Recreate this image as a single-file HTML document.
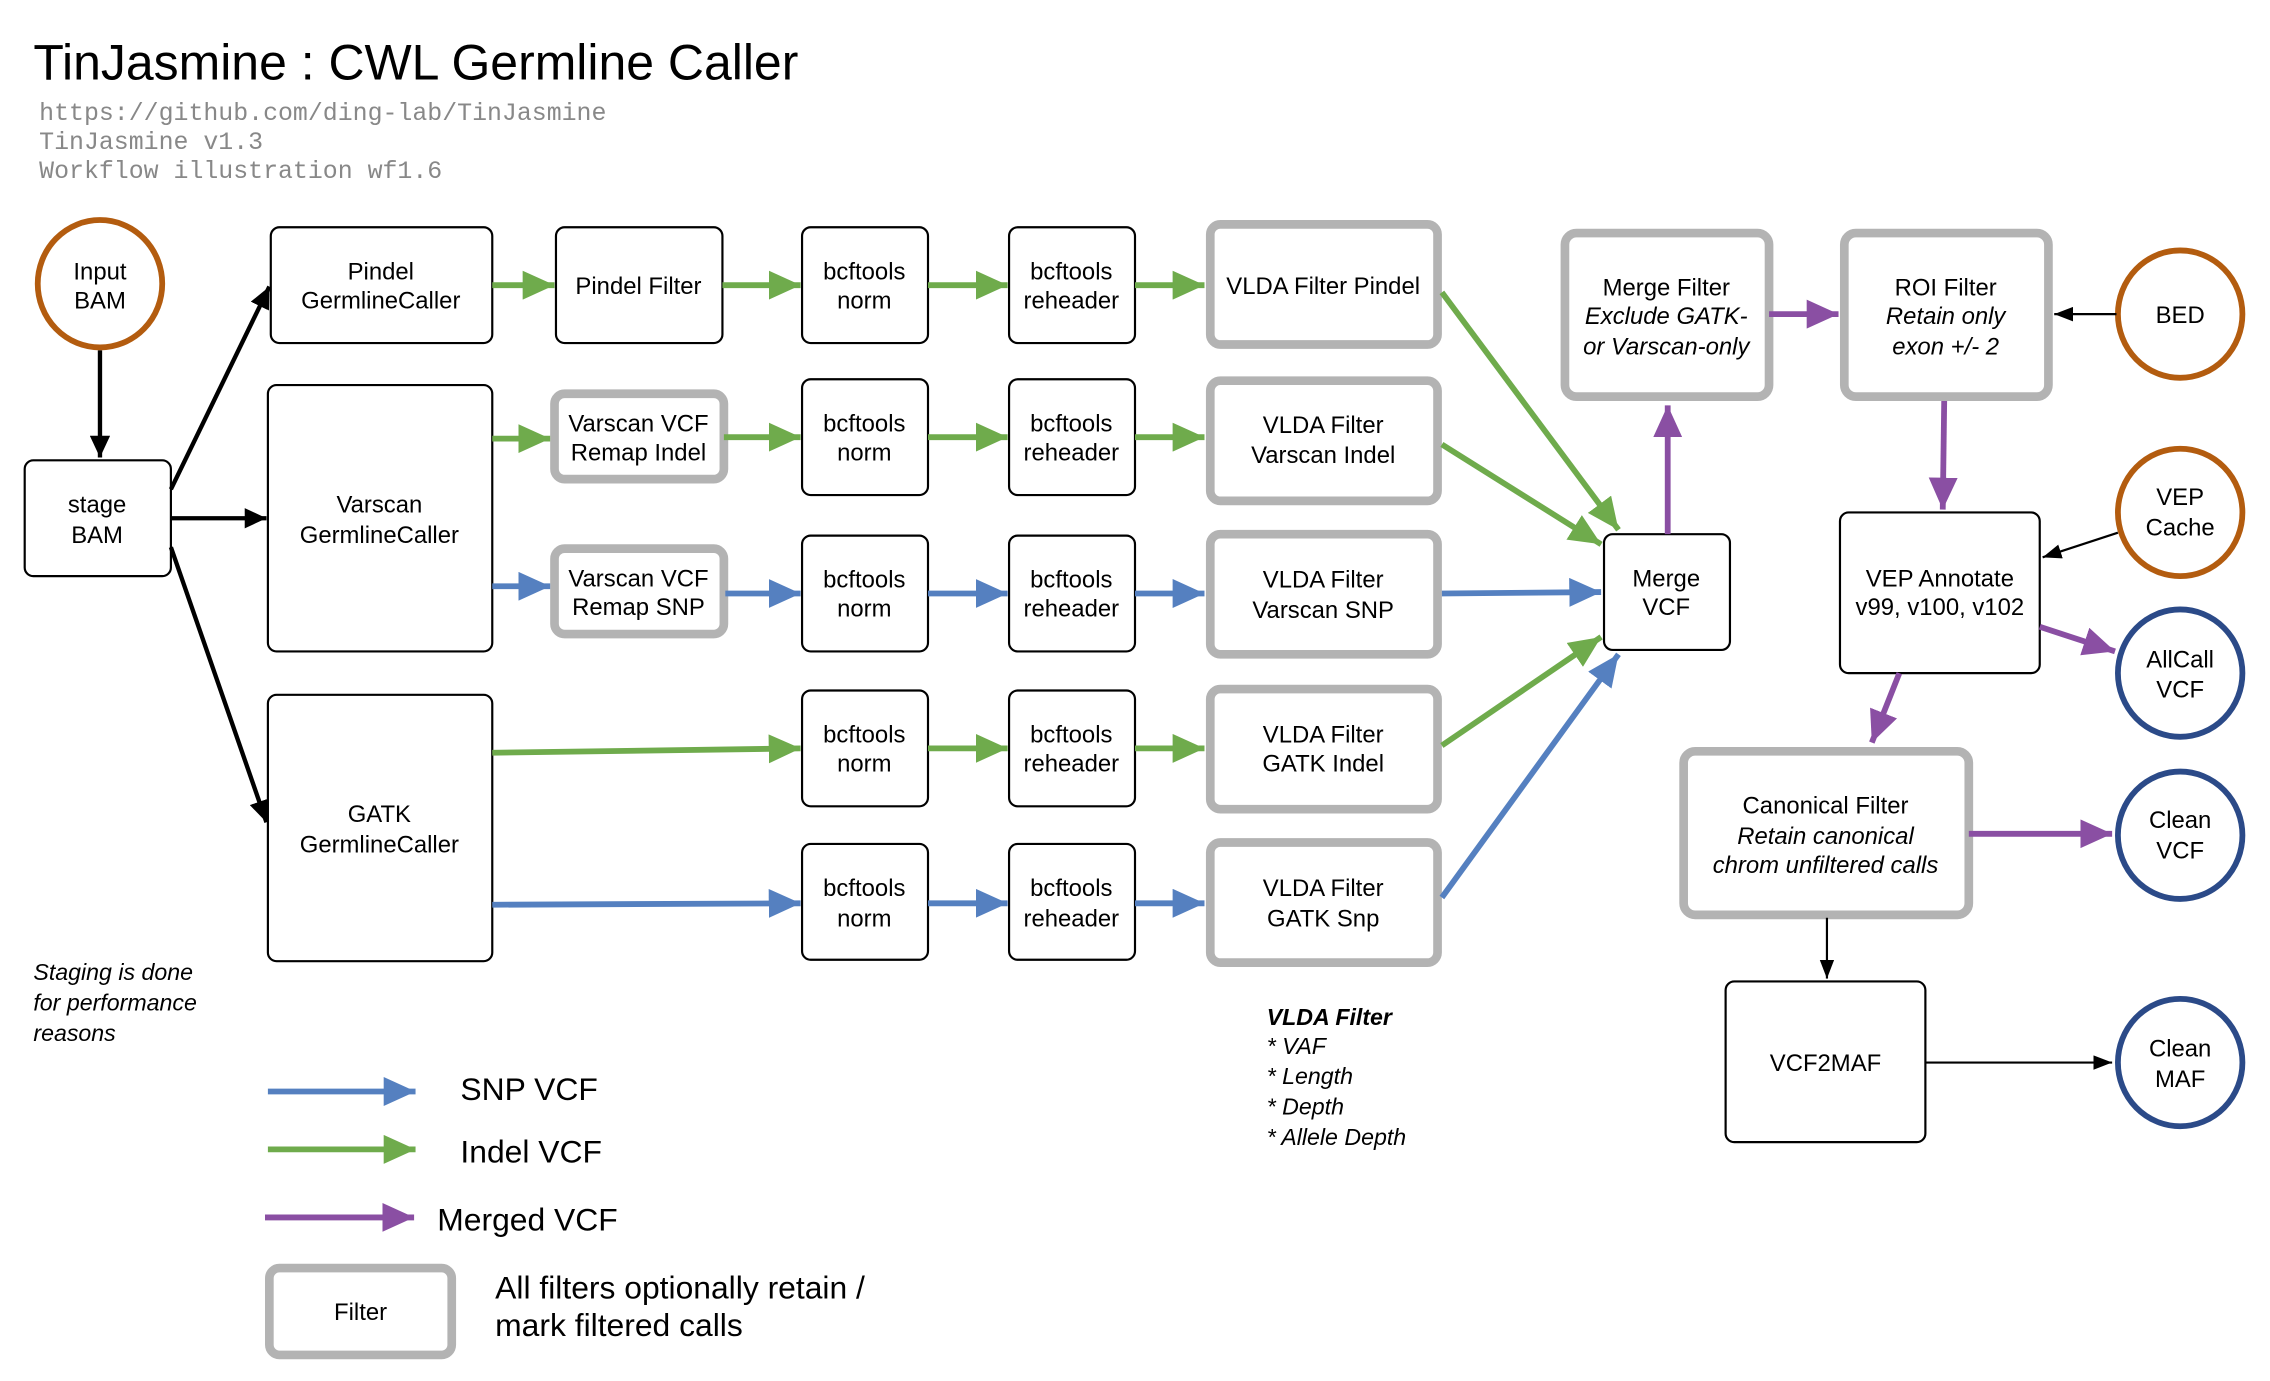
<!DOCTYPE html>
<html><head><meta charset="utf-8"><style>
html,body{margin:0;padding:0;background:#fff;width:2270px;height:1381px;overflow:hidden}
svg{display:block}
text{font-family:"Liberation Sans",sans-serif;fill:#000}
.m{font-family:"Liberation Mono",monospace;fill:#888;font-size:17.2px}
.b{font-size:16.5px;text-anchor:middle}
.i{font-style:italic}
.box{fill:#fff;stroke:#000;stroke-width:1.5}
.flt{fill:#fff;stroke:#b3b3b3;stroke-width:6}
.g{stroke:#6fab4c;stroke-width:4;fill:none}
.bl{stroke:#5580c0;stroke-width:4;fill:none}
.p{stroke:#8a4fa3;stroke-width:4;fill:none}
.k{stroke:#000;stroke-width:3;fill:none}
.k1{stroke:#000;stroke-width:1.5;fill:none}
.co{fill:#fff;stroke:#b35c0f;stroke-width:4}
.cn{fill:#fff;stroke:#2b4a88;stroke-width:4}
</style></head><body>
<svg width="2270" height="1381" viewBox="0 0 1568 954" xmlns="http://www.w3.org/2000/svg">
<defs>
<marker id="ag" markerUnits="userSpaceOnUse" markerWidth="24" markerHeight="20" refX="22" refY="10" orient="auto"><path d="M0,0 L22,10 L0,20 z" fill="#6fab4c"/></marker>
<marker id="ab" markerUnits="userSpaceOnUse" markerWidth="24" markerHeight="20" refX="22" refY="10" orient="auto"><path d="M0,0 L22,10 L0,20 z" fill="#5580c0"/></marker>
<marker id="ap" markerUnits="userSpaceOnUse" markerWidth="24" markerHeight="20" refX="22" refY="10" orient="auto"><path d="M0,0 L22,10 L0,20 z" fill="#8a4fa3"/></marker>
<marker id="ak" markerUnits="userSpaceOnUse" markerWidth="16" markerHeight="14" refX="15" refY="7" orient="auto"><path d="M0,0 L15,7 L0,14 z" fill="#000"/></marker>
<marker id="ak1" markerUnits="userSpaceOnUse" markerWidth="14" markerHeight="10" refX="13" refY="5" orient="auto"><path d="M0,0 L13,5 L0,10 z" fill="#000"/></marker>
</defs>
<text x="23" y="55" font-size="34.5">TinJasmine : CWL Germline Caller</text>
<text class="m" x="27" y="83">https://github.com/ding-lab/TinJasmine</text>
<text class="m" x="27" y="103">TinJasmine v1.3</text>
<text class="m" x="27" y="123">Workflow illustration wf1.6</text>

<ellipse class="co" cx="69" cy="196" rx="43" ry="44"/>
<text class="b" x="69" y="193">Input</text><text class="b" x="69" y="213">BAM</text>
<line class="k" x1="69" y1="242" x2="69" y2="316" marker-end="url(#ak)"/>
<rect class="box" x="17" y="318" width="101" height="80" rx="6"/>
<text class="b" x="67" y="354">stage</text><text class="b" x="67" y="375">BAM</text>
<line class="k" x1="118" y1="338" x2="186" y2="198" marker-end="url(#ak)"/>
<line class="k" x1="118" y1="358" x2="184" y2="358" marker-end="url(#ak)"/>
<line class="k" x1="118" y1="378" x2="184" y2="568" marker-end="url(#ak)"/>

<rect class="box" x="187" y="157" width="153" height="80" rx="6"/>
<text class="b" x="263" y="193">Pindel</text><text class="b" x="263" y="213">GermlineCaller</text>
<rect class="box" x="185" y="266" width="155" height="184" rx="6"/>
<text class="b" x="262" y="354">Varscan</text><text class="b" x="262" y="375">GermlineCaller</text>
<rect class="box" x="185" y="480" width="155" height="184" rx="6"/>
<text class="b" x="262" y="568">GATK</text><text class="b" x="262" y="589">GermlineCaller</text>

<rect class="box" x="384" y="157" width="115" height="80" rx="6"/>
<text class="b" x="441" y="203">Pindel Filter</text>
<rect class="flt" x="383" y="272" width="117" height="59" rx="7"/>
<text class="b" x="441" y="298">Varscan VCF</text><text class="b" x="441" y="318">Remap Indel</text>
<rect class="flt" x="383" y="379" width="117" height="59" rx="7"/>
<text class="b" x="441" y="405">Varscan VCF</text><text class="b" x="441" y="425">Remap SNP</text>

<g>
<rect class="box" x="554" y="157" width="87" height="80" rx="6"/><text class="b" x="597" y="193">bcftools</text><text class="b" x="597" y="213">norm</text>
<rect class="box" x="554" y="262" width="87" height="80" rx="6"/><text class="b" x="597" y="298">bcftools</text><text class="b" x="597" y="318">norm</text>
<rect class="box" x="554" y="370" width="87" height="80" rx="6"/><text class="b" x="597" y="406">bcftools</text><text class="b" x="597" y="426">norm</text>
<rect class="box" x="554" y="477" width="87" height="80" rx="6"/><text class="b" x="597" y="513">bcftools</text><text class="b" x="597" y="533">norm</text>
<rect class="box" x="554" y="583" width="87" height="80" rx="6"/><text class="b" x="597" y="619">bcftools</text><text class="b" x="597" y="640">norm</text>
<rect class="box" x="697" y="157" width="87" height="80" rx="6"/><text class="b" x="740" y="193">bcftools</text><text class="b" x="740" y="213">reheader</text>
<rect class="box" x="697" y="262" width="87" height="80" rx="6"/><text class="b" x="740" y="298">bcftools</text><text class="b" x="740" y="318">reheader</text>
<rect class="box" x="697" y="370" width="87" height="80" rx="6"/><text class="b" x="740" y="406">bcftools</text><text class="b" x="740" y="426">reheader</text>
<rect class="box" x="697" y="477" width="87" height="80" rx="6"/><text class="b" x="740" y="513">bcftools</text><text class="b" x="740" y="533">reheader</text>
<rect class="box" x="697" y="583" width="87" height="80" rx="6"/><text class="b" x="740" y="619">bcftools</text><text class="b" x="740" y="640">reheader</text>
</g>

<rect class="flt" x="836" y="155" width="157" height="83" rx="7"/><text class="b" x="914" y="203">VLDA Filter Pindel</text>
<rect class="flt" x="836" y="263" width="157" height="83" rx="7"/><text class="b" x="914" y="299">VLDA Filter</text><text class="b" x="914" y="320">Varscan Indel</text>
<rect class="flt" x="836" y="369" width="157" height="83" rx="7"/><text class="b" x="914" y="406">VLDA Filter</text><text class="b" x="914" y="427">Varscan SNP</text>
<rect class="flt" x="836" y="476" width="157" height="83" rx="7"/><text class="b" x="914" y="513">VLDA Filter</text><text class="b" x="914" y="533">GATK Indel</text>
<rect class="flt" x="836" y="582" width="157" height="83" rx="7"/><text class="b" x="914" y="619">VLDA Filter</text><text class="b" x="914" y="640">GATK Snp</text>

<line class="g" x1="340" y1="197" x2="383" y2="197" marker-end="url(#ag)"/>
<line class="g" x1="499" y1="197" x2="553" y2="197" marker-end="url(#ag)"/>
<line class="g" x1="641" y1="197" x2="696" y2="197" marker-end="url(#ag)"/>
<line class="g" x1="784" y1="197" x2="832" y2="197" marker-end="url(#ag)"/>
<line class="g" x1="340" y1="303" x2="380" y2="303" marker-end="url(#ag)"/>
<line class="g" x1="500" y1="302" x2="553" y2="302" marker-end="url(#ag)"/>
<line class="g" x1="641" y1="302" x2="696" y2="302" marker-end="url(#ag)"/>
<line class="g" x1="784" y1="302" x2="832" y2="302" marker-end="url(#ag)"/>
<line class="bl" x1="340" y1="405" x2="380" y2="405" marker-end="url(#ab)"/>
<line class="bl" x1="501" y1="410" x2="553" y2="410" marker-end="url(#ab)"/>
<line class="bl" x1="641" y1="410" x2="696" y2="410" marker-end="url(#ab)"/>
<line class="bl" x1="784" y1="410" x2="832" y2="410" marker-end="url(#ab)"/>
<line class="g" x1="340" y1="520" x2="553" y2="517" marker-end="url(#ag)"/>
<line class="g" x1="641" y1="517" x2="696" y2="517" marker-end="url(#ag)"/>
<line class="g" x1="784" y1="517" x2="832" y2="517" marker-end="url(#ag)"/>
<line class="bl" x1="340" y1="625" x2="553" y2="624" marker-end="url(#ab)"/>
<line class="bl" x1="641" y1="624" x2="696" y2="624" marker-end="url(#ab)"/>
<line class="bl" x1="784" y1="624" x2="832" y2="624" marker-end="url(#ab)"/>

<rect class="box" x="1108" y="369" width="87" height="80" rx="6"/>
<text class="b" x="1151" y="405">Merge</text><text class="b" x="1151" y="425">VCF</text>
<line class="g" x1="996" y1="202" x2="1118" y2="366" marker-end="url(#ag)"/>
<line class="g" x1="996" y1="307" x2="1106" y2="376" marker-end="url(#ag)"/>
<line class="bl" x1="996" y1="410" x2="1106" y2="409" marker-end="url(#ab)"/>
<line class="g" x1="996" y1="515" x2="1106" y2="440" marker-end="url(#ag)"/>
<line class="bl" x1="996" y1="620" x2="1118" y2="452" marker-end="url(#ab)"/>
<line class="p" x1="1152" y1="369" x2="1152" y2="280" marker-end="url(#ap)"/>

<rect class="flt" x="1081" y="161" width="141" height="113" rx="8"/>
<text class="b" x="1151" y="204">Merge Filter</text>
<text class="b i" x="1151" y="224">Exclude GATK-</text>
<text class="b i" x="1151" y="245">or Varscan-only</text>
<line class="p" x1="1222" y1="217" x2="1270" y2="217" marker-end="url(#ap)"/>
<rect class="flt" x="1274" y="161" width="141" height="113" rx="8"/>
<text class="b" x="1344" y="204">ROI Filter</text>
<text class="b i" x="1344" y="224">Retain only</text>
<text class="b i" x="1344" y="245">exon +/- 2</text>
<ellipse class="co" cx="1506" cy="217" rx="43" ry="44"/>
<text class="b" x="1506" y="223">BED</text>
<line class="k1" x1="1462" y1="217" x2="1419" y2="217" marker-end="url(#ak1)"/>
<line class="p" x1="1343" y1="277" x2="1342" y2="352" marker-end="url(#ap)"/>

<rect class="box" x="1271" y="354" width="138" height="111" rx="6"/>
<text class="b" x="1340" y="405">VEP Annotate</text>
<text class="b" x="1340" y="425">v99, v100, v102</text>
<ellipse class="co" cx="1506" cy="354" rx="43" ry="44"/>
<text class="b" x="1506" y="349">VEP</text><text class="b" x="1506" y="370">Cache</text>
<line class="k1" x1="1463" y1="368" x2="1411" y2="385" marker-end="url(#ak1)"/>
<ellipse class="cn" cx="1506" cy="465" rx="43" ry="44"/>
<text class="b" x="1506" y="461">AllCall</text><text class="b" x="1506" y="482">VCF</text>
<line class="p" x1="1409" y1="433" x2="1461" y2="450" marker-end="url(#ap)"/>
<line class="p" x1="1312" y1="465" x2="1293" y2="513" marker-end="url(#ap)"/>

<rect class="flt" x="1163" y="519" width="197" height="113" rx="8"/>
<text class="b" x="1261" y="562">Canonical Filter</text>
<text class="b i" x="1261" y="583">Retain canonical</text>
<text class="b i" x="1261" y="603">chrom unfiltered calls</text>
<line class="p" x1="1360" y1="576" x2="1459" y2="576" marker-end="url(#ap)"/>
<ellipse class="cn" cx="1506" cy="577" rx="43" ry="44"/>
<text class="b" x="1506" y="572">Clean</text><text class="b" x="1506" y="593">VCF</text>
<line class="k1" x1="1262" y1="634" x2="1262" y2="676" marker-end="url(#ak1)"/>
<rect class="box" x="1192" y="678" width="138" height="111" rx="6"/>
<text class="b" x="1261" y="740">VCF2MAF</text>
<line class="k1" x1="1330" y1="734" x2="1459" y2="734" marker-end="url(#ak1)"/>
<ellipse class="cn" cx="1506" cy="734" rx="43" ry="44"/>
<text class="b" x="1506" y="730">Clean</text><text class="b" x="1506" y="751">MAF</text>

<g font-size="16" font-style="italic">
<text x="23" y="677">Staging is done</text><text x="23" y="698">for performance</text><text x="23" y="719">reasons</text>
<text x="875" y="708" font-weight="bold">VLDA Filter</text>
<text x="875" y="728">* VAF</text><text x="875" y="749">* Length</text><text x="875" y="770">* Depth</text><text x="875" y="791">* Allele Depth</text>
</g>

<line class="bl" x1="185" y1="754" x2="287" y2="754" marker-end="url(#ab)"/>
<text x="318" y="760" font-size="22">SNP VCF</text>
<line class="g" x1="185" y1="794" x2="287" y2="794" marker-end="url(#ag)"/>
<text x="318" y="803" font-size="22">Indel VCF</text>
<line class="p" x1="183" y1="841" x2="286" y2="841" marker-end="url(#ap)"/>
<text x="302" y="850" font-size="22">Merged VCF</text>
<rect class="flt" x="186" y="876" width="126" height="60" rx="7"/>
<text class="b" x="249" y="912">Filter</text>
<text x="342" y="897" font-size="22">All filters optionally retain /</text>
<text x="342" y="923" font-size="22">mark filtered calls</text>
</svg>
</body></html>
